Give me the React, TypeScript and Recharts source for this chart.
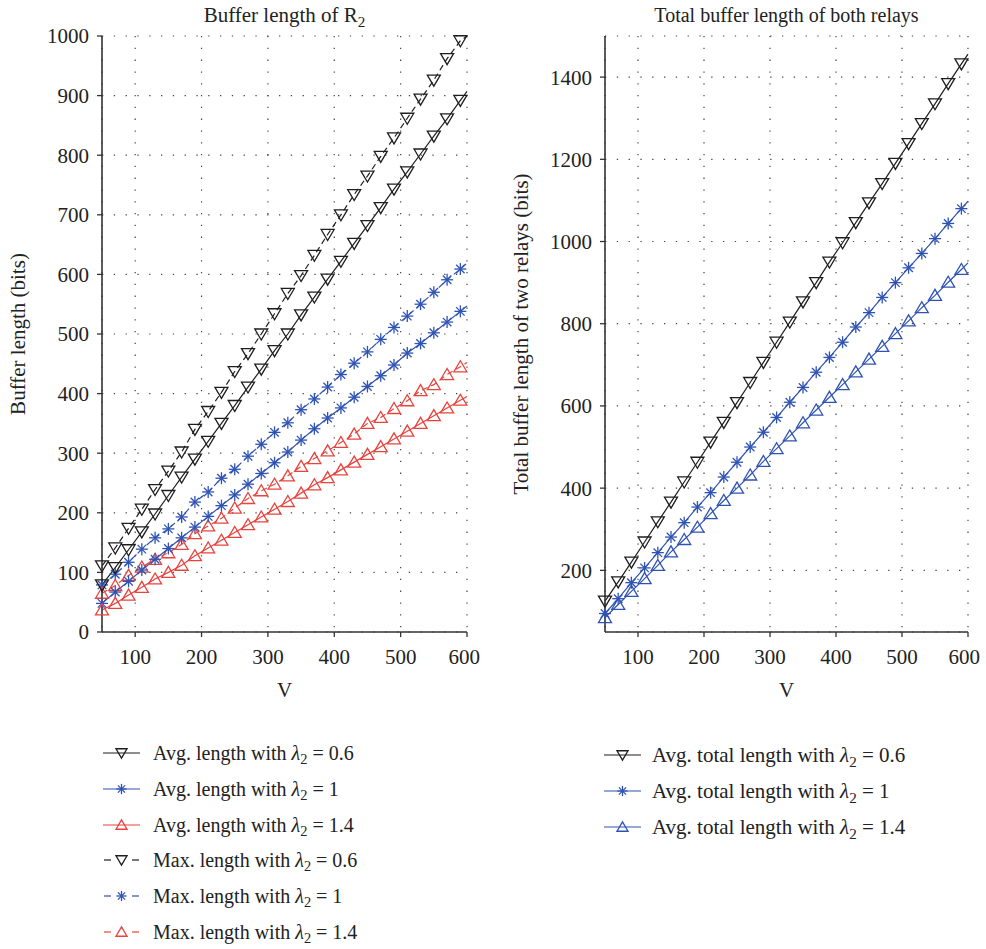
import React from 'react';
import { LineChart, Line, XAxis, YAxis, CartesianGrid } from 'recharts';

const FONT = '"Liberation Serif", "Times New Roman", serif';
const BLACK = '#1e1e1e';
const BLUE = '#2f53b3';
const RED = '#e8433d';
const AXIS = '#333333';

// V values (markers every 20, line continues to 600)
const V = [50, 70, 90, 110, 130, 150, 170, 190, 210, 230, 250, 270, 290, 310, 330, 350, 370, 390, 410, 430, 450, 470, 490, 510, 530, 550, 570, 590, 600];

// Left panel: buffer length of R2
const avgLen06 = [79, 108, 138, 168, 198, 229, 260, 290, 320, 350, 380, 411, 441, 472, 500, 532, 562, 592, 622, 652, 682, 712, 743, 772, 802, 832, 861, 892, 907];
const avgLen10 = [48, 67, 85, 104, 122, 140, 158, 176, 194, 212, 230, 248, 266, 284, 302, 322, 341, 359, 376, 394, 412, 430, 448, 468, 484, 502, 520, 538, 547];
const avgLen14 = [37, 48, 62, 75, 89, 100, 112, 128, 141, 154, 167, 180, 193, 206, 219, 233, 247, 259, 272, 285, 298, 311, 324, 337, 350, 363, 376, 389, 395];
const maxLen06 = [111, 141, 174, 206, 239, 270, 302, 340, 370, 402, 437, 467, 500, 534, 568, 598, 632, 667, 700, 734, 765, 798, 829, 862, 894, 926, 962, 992, 1000];
const maxLen10 = [79, 97, 117, 139, 158, 173, 193, 218, 235, 258, 273, 295, 315, 335, 351, 373, 391, 411, 432, 451, 470, 491, 511, 530, 550, 570, 591, 609, 619];
const maxLen14 = [65, 78, 95, 109, 122, 133, 147, 165, 178, 191, 208, 224, 237, 248, 262, 278, 291, 304, 318, 332, 350, 360, 375, 388, 405, 415, 432, 445, 452];

// Right panel: total buffer length of both relays
const total06 = [125, 172, 220, 269, 318, 366, 415, 463, 512, 560, 608, 657, 706, 755, 804, 853, 900, 950, 997, 1046, 1094, 1141, 1190, 1238, 1287, 1335, 1384, 1432, 1456];
const total10 = [95, 131, 170, 206, 243, 281, 316, 354, 389, 427, 463, 500, 536, 572, 609, 645, 682, 718, 755, 792, 827, 864, 900, 936, 971, 1007, 1044, 1080, 1098];
const total14 = [85, 117, 149, 180, 212, 245, 275, 305, 338, 370, 400, 432, 465, 496, 527, 559, 590, 621, 652, 683, 714, 745, 776, 807, 839, 869, 901, 932, 948];

const xTicks = [100, 200, 300, 400, 500, 600];
const leftYTicks = [0, 100, 200, 300, 400, 500, 600, 700, 800, 900, 1000];
const rightYTicks = [200, 400, 600, 800, 1000, 1200, 1400];

const leftData = V.map((v, i) => ({
  V: v,
  a06: avgLen06[i],
  a10: avgLen10[i],
  a14: avgLen14[i],
  m06: maxLen06[i],
  m10: maxLen10[i],
  m14: maxLen14[i],
}));

const rightData = V.map((v, i) => ({
  V: v,
  t06: total06[i],
  t10: total10[i],
  t14: total14[i],
}));

type MarkerKind = 'down' | 'star' | 'up';

function Marker({ kind, cx, cy, color, s = 1 }: { kind: MarkerKind; cx: number; cy: number; color: string; s?: number }) {
  if (kind === 'down') {
    const pts = `${cx - 6.5 * s},${cy - 5 * s} ${cx + 6.5 * s},${cy - 5 * s} ${cx},${cy + 6 * s}`;
    return <polygon points={pts} fill="none" stroke={color} strokeWidth={1.3} />;
  }
  if (kind === 'up') {
    const pts = `${cx - 6.5 * s},${cy + 5 * s} ${cx + 6.5 * s},${cy + 5 * s} ${cx},${cy - 6 * s}`;
    return <polygon points={pts} fill="none" stroke={color} strokeWidth={1.3} />;
  }
  const r = 6 * s;
  const d = r * 0.707;
  return (
    <g stroke={color} strokeWidth={1.3}>
      <line x1={cx - r} y1={cy} x2={cx + r} y2={cy} />
      <line x1={cx} y1={cy - r} x2={cx} y2={cy + r} />
      <line x1={cx - d} y1={cy - d} x2={cx + d} y2={cy + d} />
      <line x1={cx - d} y1={cy + d} x2={cx + d} y2={cy - d} />
    </g>
  );
}

const makeDot = (kind: MarkerKind, color: string) => (p: any) => {
  const key = `${kind}-${color}-${p.index}`;
  if (p.payload && p.payload.V === 600) return <g key={key} />;
  if (p.cx == null || p.cy == null) return <g key={key} />;
  return (
    <g key={key}>
      <Marker kind={kind} cx={p.cx} cy={p.cy} color={color} />
    </g>
  );
};

const tickStyle = { fontSize: 21, fill: '#222', fontFamily: FONT };

function Lam({ value }: { value: string }) {
  return (
    <>
      <span style={{ fontStyle: 'italic' }}>λ</span>
      <sub style={{ fontSize: '0.72em', verticalAlign: '-0.3em', lineHeight: 0 }}>2</sub>
      {' = ' + value}
    </>
  );
}

type LegendItem = { color: string; kind: MarkerKind; dashed: boolean; prefix: string; value: string };

const leftLegend: LegendItem[] = [
  { color: BLACK, kind: 'down', dashed: false, prefix: 'Avg. length with ', value: '0.6' },
  { color: BLUE, kind: 'star', dashed: false, prefix: 'Avg. length with ', value: '1' },
  { color: RED, kind: 'up', dashed: false, prefix: 'Avg. length with ', value: '1.4' },
  { color: BLACK, kind: 'down', dashed: true, prefix: 'Max. length with ', value: '0.6' },
  { color: BLUE, kind: 'star', dashed: true, prefix: 'Max. length with ', value: '1' },
  { color: RED, kind: 'up', dashed: true, prefix: 'Max. length with ', value: '1.4' },
];

const rightLegend: LegendItem[] = [
  { color: BLACK, kind: 'down', dashed: false, prefix: 'Avg. total length with ', value: '0.6' },
  { color: BLUE, kind: 'star', dashed: false, prefix: 'Avg. total length with ', value: '1' },
  { color: BLUE, kind: 'up', dashed: false, prefix: 'Avg. total length with ', value: '1.4' },
];

function LegendBlock({ items, x, y0, step, textX, fontSize }: { items: LegendItem[]; x: number; y0: number; step: number; textX: number; fontSize: number }) {
  return (
    <>
      {items.map((it, i) => {
        const cy = y0 + i * step;
        return (
          <React.Fragment key={i}>
            <svg width={40} height={20} style={{ position: 'absolute', left: x, top: cy - 10 }}>
              {it.dashed ? (
                <g stroke={it.color} strokeWidth={1.2}>
                  <line x1={1} y1={10} x2={8} y2={10} />
                  <line x1={29} y1={10} x2={36} y2={10} />
                </g>
              ) : (
                <line x1={0} y1={10} x2={37} y2={10} stroke={it.color} strokeWidth={1.2} />
              )}
              <Marker kind={it.kind} cx={18.5} cy={10} color={it.color} s={0.85} />
            </svg>
            <div
              style={{
                position: 'absolute',
                left: textX,
                top: cy - 13,
                height: 26,
                lineHeight: '26px',
                fontSize,
                fontFamily: FONT,
                color: '#222',
                whiteSpace: 'nowrap',
              }}
            >
              {it.prefix}
              <Lam value={it.value} />
            </div>
          </React.Fragment>
        );
      })}
    </>
  );
}

const lineProps = { type: 'linear' as const, strokeWidth: 1.2, isAnimationActive: false, activeDot: false as const };
const labelStyle = { fontSize: 21, fill: '#222', fontFamily: FONT };

export default function App() {
  return (
    <div style={{ position: 'absolute', left: 0, top: 0, width: 986, height: 949, background: '#fff', fontFamily: FONT }}>
      <div style={{ position: 'absolute', left: 102, top: 2, width: 365, textAlign: 'center', fontSize: 21, lineHeight: '26px', color: '#222' }}>
        Buffer length of R<sub style={{ fontSize: '0.72em', verticalAlign: '-0.3em', lineHeight: 0 }}>2</sub>
      </div>
      <div style={{ position: 'absolute', left: 605, top: 2, width: 363, textAlign: 'center', fontSize: 20, lineHeight: '26px', color: '#222' }}>
        Total buffer length of both relays
      </div>

      <div style={{ position: 'absolute', left: 0, top: 0 }}>
        <LineChart width={480} height={720} data={leftData} margin={{ top: 36, right: 13, left: 0, bottom: 20 }}>
          <CartesianGrid stroke="#444" strokeDasharray="1.3 10.5" strokeWidth={1.2} />
          <XAxis
            dataKey="V"
            type="number"
            domain={[50, 600]}
            ticks={xTicks}
            height={68}
            tickSize={5}
            tickMargin={12}
            tick={tickStyle}
            axisLine={{ stroke: AXIS, strokeWidth: 1.6 }}
            tickLine={{ stroke: AXIS, strokeWidth: 1.3 }}
            label={{ value: 'V', position: 'insideBottom', offset: 3, style: labelStyle }}
          />
          <XAxis xAxisId="top" orientation="top" dataKey="V" type="number" domain={[50, 600]} height={0} tick={false} tickLine={false} axisLine={{ stroke: '#555', strokeWidth: 1.2 }} />
          <YAxis
            type="number"
            domain={[0, 1000]}
            ticks={leftYTicks}
            width={102}
            tickSize={5}
            tickMargin={8}
            tick={tickStyle}
            axisLine={{ stroke: AXIS, strokeWidth: 1.6 }}
            tickLine={{ stroke: AXIS, strokeWidth: 1.3 }}
            label={{ value: 'Buffer length (bits)', angle: -90, position: 'insideLeft', offset: 18, style: { ...labelStyle, textAnchor: 'middle' } }}
          />
          <YAxis yAxisId="right" orientation="right" type="number" domain={[0, 1000]} width={0} tick={false} tickLine={false} axisLine={{ stroke: '#555', strokeWidth: 1.2 }} />
          <Line {...lineProps} dataKey="m06" stroke={BLACK} strokeDasharray="6 4" dot={makeDot('down', BLACK)} />
          <Line {...lineProps} dataKey="m10" stroke={BLUE} strokeDasharray="6 4" dot={makeDot('star', BLUE)} />
          <Line {...lineProps} dataKey="m14" stroke={RED} strokeDasharray="6 4" dot={makeDot('up', RED)} />
          <Line {...lineProps} dataKey="a06" stroke={BLACK} dot={makeDot('down', BLACK)} />
          <Line {...lineProps} dataKey="a10" stroke={BLUE} dot={makeDot('star', BLUE)} />
          <Line {...lineProps} dataKey="a14" stroke={RED} dot={makeDot('up', RED)} />
        </LineChart>
      </div>

      <div style={{ position: 'absolute', left: 490, top: 0 }}>
        <LineChart width={490} height={720} data={rightData} margin={{ top: 36, right: 12, left: 0, bottom: 20 }}>
          <CartesianGrid stroke="#444" strokeDasharray="1.3 10.5" strokeWidth={1.2} />
          <XAxis
            dataKey="V"
            type="number"
            domain={[50, 600]}
            ticks={xTicks}
            height={68}
            tickSize={5}
            tickMargin={12}
            tick={tickStyle}
            axisLine={{ stroke: AXIS, strokeWidth: 1.6 }}
            tickLine={{ stroke: AXIS, strokeWidth: 1.3 }}
            label={{ value: 'V', position: 'insideBottom', offset: 3, style: labelStyle }}
          />
          <XAxis xAxisId="top" orientation="top" dataKey="V" type="number" domain={[50, 600]} height={0} tick={false} tickLine={false} axisLine={{ stroke: '#555', strokeWidth: 1.2 }} />
          <YAxis
            type="number"
            domain={[50, 1500]}
            ticks={rightYTicks}
            width={115}
            tickSize={5}
            tickMargin={8}
            tick={tickStyle}
            axisLine={{ stroke: AXIS, strokeWidth: 1.6 }}
            tickLine={{ stroke: AXIS, strokeWidth: 1.3 }}
            label={{ value: 'Total buffer length of two relays (bits)', angle: -90, position: 'insideLeft', offset: 31, style: { ...labelStyle, textAnchor: 'middle' } }}
          />
          <YAxis yAxisId="right" orientation="right" type="number" domain={[50, 1500]} width={0} tick={false} tickLine={false} axisLine={{ stroke: '#555', strokeWidth: 1.2 }} />
          <Line {...lineProps} dataKey="t06" stroke={BLACK} dot={makeDot('down', BLACK)} />
          <Line {...lineProps} dataKey="t10" stroke={BLUE} dot={makeDot('star', BLUE)} />
          <Line {...lineProps} dataKey="t14" stroke={BLUE} dot={makeDot('up', BLUE)} />
        </LineChart>
      </div>

      <LegendBlock items={leftLegend} x={103} y0={753} step={35.8} textX={153} fontSize={20} />
      <LegendBlock items={rightLegend} x={604} y0={755} step={36} textX={652} fontSize={21} />
    </div>
  );
}
